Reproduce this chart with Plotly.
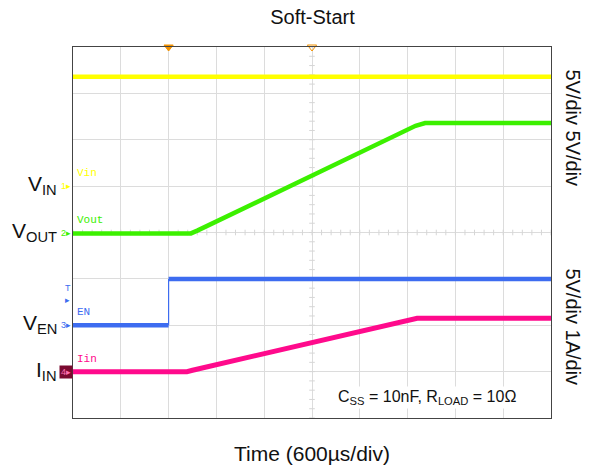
import plotly.graph_objects as go

# Time base: 600 us/div, 10 divisions, trigger at t = 0
T_MIN, T_MAX, T_DIV = -1200, 4800, 600

# Channel 1: input voltage (V)
t_vin = [-1200, 4800]
vin = [11.8, 11.8]

# Channel 2: output voltage (V)
t_vout = [-1200, 280, 360, 3100, 3220, 4800]
vout = [-0.1, -0.1, 0.2, 11.5, 11.8, 11.8]

# Channel 3: enable (V)
t_en = [-1200, 0, 0, 4800]
ven = [0.0, 0.0, 5.0, 5.0]

# Channel 4: input current (A)
t_iin = [-1200, 230, 300, 2980, 3120, 4800]
iin = [0.0, 0.0, 0.03, 1.11, 1.15, 1.15]

# Per-channel scale (units/div) and ground position (divisions from bottom)
scales = {"vin": 5, "vout": 5, "en": 5, "iin": 1}
ground_div = {"vin": 5, "vout": 4, "en": 2, "iin": 1}
N_YDIV = 8

C_VIN = "#ffff00"
C_VOUT = "#3cf000"
C_EN = "#3d6cf0"
C_IIN = "#ff0a8c"
GRID = "#dcdcdc"


def yrange(ch):
    s, g = scales[ch], ground_div[ch]
    return [-g * s, (N_YDIV - g) * s]


fig = go.Figure()

# center-line tick marks (scope graticule)
t_center = (T_MIN + T_MAX) / 2
vin_lo, vin_hi = yrange("vin")
y_center = (vin_lo + vin_hi) / 2
n_yt = int(vin_hi - vin_lo) + 1
fig.add_trace(go.Scatter(
    x=[t_center] * n_yt,
    y=[vin_lo + k for k in range(n_yt)],
    mode="markers", marker=dict(symbol="line-ew", size=4, line=dict(color="#d6d6d6", width=1)),
    yaxis="y", hoverinfo="skip", showlegend=False))
n_xt = int((T_MAX - T_MIN) / (T_DIV / 5)) + 1
fig.add_trace(go.Scatter(
    x=[T_MIN + k * T_DIV / 5 for k in range(n_xt)],
    y=[y_center] * n_xt,
    mode="markers", marker=dict(symbol="line-ns", size=4, line=dict(color="#d6d6d6", width=1)),
    yaxis="y", hoverinfo="skip", showlegend=False))

fig.add_trace(go.Scatter(x=t_vin, y=vin, mode="lines", line=dict(color=C_VIN, width=4.5),
                         yaxis="y", showlegend=False))
fig.add_trace(go.Scatter(x=t_vout, y=vout, mode="lines", line=dict(color=C_VOUT, width=4.5),
                         yaxis="y2", showlegend=False))
# enable: thick levels, thin edge
fig.add_trace(go.Scatter(x=t_en[:2] + [None] + t_en[2:], y=ven[:2] + [None] + ven[2:],
                         mode="lines", line=dict(color=C_EN, width=4.5), yaxis="y3", showlegend=False))
fig.add_trace(go.Scatter(x=t_en[1:3], y=ven[1:3], mode="lines", line=dict(color=C_EN, width=1.2),
                         yaxis="y3", showlegend=False))
fig.add_trace(go.Scatter(x=t_iin, y=iin, mode="lines", line=dict(color=C_IIN, width=5),
                         yaxis="y4", showlegend=False))

# trigger position markers along the top edge
fig.add_trace(go.Scatter(x=[0, t_center], y=[vin_hi, vin_hi], mode="markers", yaxis="y",
                         marker=dict(symbol=["triangle-down", "triangle-down-open"], size=8,
                                     color="#f39200", line=dict(color="#f39200", width=1)),
                         cliponaxis=False, showlegend=False))

hidden = dict(showticklabels=False, showgrid=False, zeroline=False, ticks="", showline=False)
fig.update_layout(
    width=593, height=472,
    margin=dict(l=73, r=42, t=47, b=54),
    paper_bgcolor="white", plot_bgcolor="white",
    font=dict(family="Liberation Sans, Arial, sans-serif", color="#111111"),
    title=dict(text="Soft-Start", x=0.527, xanchor="center", y=0.963, yanchor="middle",
               font=dict(size=20, color="#111111")),
    xaxis=dict(range=[T_MIN, T_MAX], dtick=T_DIV, tick0=0, showticklabels=False, ticks="",
               showgrid=True, gridcolor=GRID, gridwidth=1, zeroline=False,
               showline=True, linecolor="#444444", linewidth=1, mirror=True,
               title=dict(text="Time (600µs/div)", font=dict(size=21), standoff=28)),
    yaxis=dict(range=yrange("vin"), dtick=scales["vin"], tick0=0, showticklabels=False, ticks="",
               showgrid=True, gridcolor=GRID, gridwidth=1, zeroline=False,
               showline=True, linecolor="#444444", linewidth=1, mirror=True),
    yaxis2=dict(range=yrange("vout"), overlaying="y", **hidden),
    yaxis3=dict(range=yrange("en"), overlaying="y", **hidden),
    yaxis4=dict(range=yrange("iin"), overlaying="y", **hidden),
)

# Left-side channel names (large) and scope channel markers
big = [("V<sub>IN</sub>", "y"), ("V<sub>OUT</sub>", "y2"), ("V<sub>EN</sub>", "y3"), ("I<sub>IN</sub>", "y4")]
for txt, yr in big:
    fig.add_annotation(text=txt, xref="paper", yref=yr, x=-0.029, y=0, xanchor="right",
                       yanchor="middle", yshift=1, showarrow=False,
                       font=dict(size=21, color="#111111"))

markers = [("1▸", "y", C_VIN, None), ("2▸", "y2", C_VOUT, None), ("3▸", "y3", C_EN, None),
           ("4▸", "y4", "#ff6fb0", "#7a0a30")]
for txt, yr, col, bg in markers:
    fig.add_annotation(text=txt, xref="paper", yref=yr, x=0, y=0, xanchor="right", yanchor="middle",
                       showarrow=False, font=dict(size=9, color=col), bgcolor=bg,
                       borderpad=1)
fig.add_annotation(text="T<br>▸", xref="paper", yref="y3", x=0, y=2.5, xanchor="right",
                   yanchor="bottom", yshift=-5, showarrow=False,
                   font=dict(size=9, color=C_EN))

# Channel names inside the graticule
names = [("Vin", "y", C_VIN), ("Vout", "y2", C_VOUT), ("EN", "y3", C_EN), ("Iin", "y4", C_IIN)]
for txt, yr, col in names:
    fig.add_annotation(text=txt, xref="paper", yref=yr, x=0.005, y=0, xanchor="left",
                       yanchor="bottom", yshift=5, showarrow=False,
                       font=dict(size=11, color=col, family="Liberation Mono, monospace"))

# Vertical scale labels on the right
fig.add_annotation(text="5V/div 5V/div", xref="paper", yref="paper", x=1.018, xanchor="left",
                   y=(418 - 128) / 371, yanchor="middle", textangle=90, showarrow=False,
                   font=dict(size=20, color="#111111"))
fig.add_annotation(text="5V/div 1A/div", xref="paper", yref="paper", x=1.018, xanchor="left",
                   y=(418 - 327) / 371, yanchor="middle", textangle=90, showarrow=False,
                   font=dict(size=20, color="#111111"))

# Test conditions
fig.add_annotation(text="C<sub>SS</sub> = 10nF, R<sub>LOAD</sub> = 10Ω", xref="paper", yref="paper",
                   x=(427 - 73) / 478, y=(418 - 397) / 371, xanchor="center", yanchor="middle",
                   showarrow=False, bgcolor="white", font=dict(size=16, color="#111111"))

fig.write_html("out.html")
